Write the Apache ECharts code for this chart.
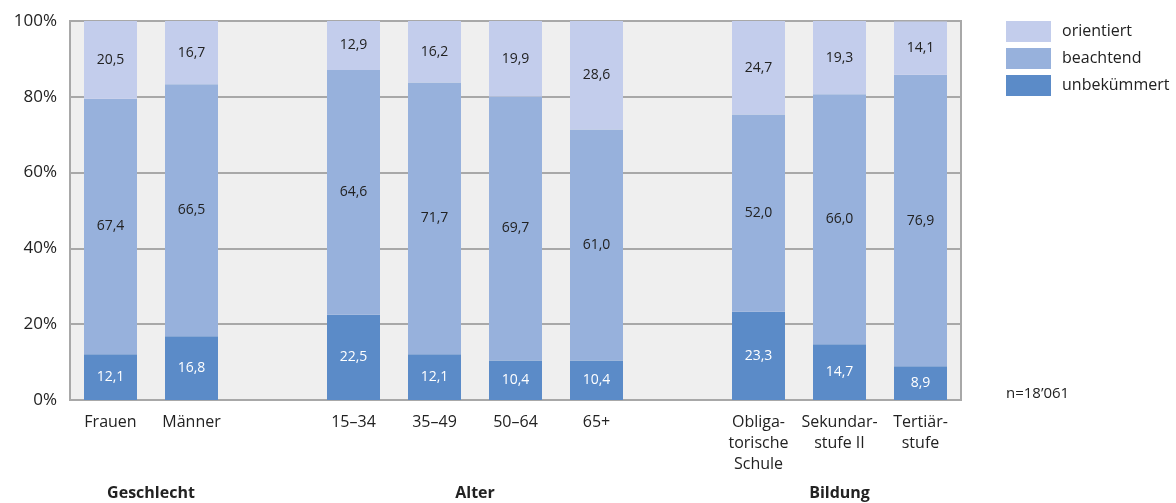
<!DOCTYPE html>
<html><head><meta charset="utf-8">
<script src="https://cdn.jsdelivr.net/npm/echarts@6/dist/echarts.min.js"></script>
<style>html,body{margin:0;padding:0;background:#fff}#c{width:1176px;height:503px}</style>
</head><body><div id="c"></div>
<script>
const categories = ['Frauen','Männer','','15–34','35–49','50–64','65+','','Obliga-\ntorische\nSchule','Sekundar-\nstufe II','Tertiär-\nstufe'];
const unbekuemmert = [12.1,16.8,null,22.5,12.1,10.4,10.4,null,23.3,14.7,8.9];
const beachtend = [67.4,66.5,null,64.6,71.7,69.7,61.0,null,52.0,66.0,76.9];
const orientiert = [20.5,16.7,null,12.9,16.2,19.9,28.6,null,24.7,19.3,14.1];
const groups = [
  {name:'Geschlecht', from:0, to:1},
  {name:'Alter', from:3, to:6},
  {name:'Bildung', from:8, to:10}
];
const note = 'n=18\u2019061';

const FONT = '"Open Sans", sans-serif';
const fmt = v => v == null ? '' : v.toFixed(1).replace('.', ',');
const chart = echarts.init(document.getElementById('c'));
const barBase = {type:'bar', stack:'s', barWidth:53, animation:false};
const lbl = color => ({show:true, position:'inside', formatter:p=>fmt(p.value), color:color, fontSize:14, fontFamily:FONT});
chart.setOption({
  animation:false,
  textStyle:{fontFamily:FONT},
  grid:{left:70, top:21, right:215, bottom:103, show:true, backgroundColor:'#efefef', borderColor:'#a8a8a8', borderWidth:2},
  legend:{
    left:1001, top:16, orient:'vertical', itemWidth:45, itemHeight:21, itemGap:6,
    icon:'rect', selectedMode:false,
    textStyle:{fontFamily:FONT, fontSize:16, color:'#222', padding:[0,0,0,6]},
    data:['orientiert','beachtend','unbekümmert']
  },
  xAxis:{
    type:'category', data:categories,
    axisLine:{lineStyle:{color:'#a8a8a8', width:2}},
    axisTick:{show:false},
    axisLabel:{interval:0, color:'#222', fontSize:16, lineHeight:21, margin:12, fontFamily:FONT, verticalAlign:'top'}
  },
  yAxis:{
    type:'value', min:0, max:100, interval:20,
    axisLine:{show:true, lineStyle:{color:'#a8a8a8', width:2}},
    axisTick:{show:false},
    splitLine:{lineStyle:{color:'#a8a8a8', width:2}},
    axisLabel:{formatter:'{value}%', color:'#222', fontSize:17, margin:13, fontFamily:FONT}
  },
  series:[
    Object.assign({}, barBase, {name:'unbekümmert', data:unbekuemmert, itemStyle:{color:'#5b8bc8'}, label:lbl('#ffffff')}),
    Object.assign({}, barBase, {name:'beachtend', data:beachtend, itemStyle:{color:'#97b1dc'}, label:lbl('#222')}),
    Object.assign({}, barBase, {name:'orientiert', data:orientiert, itemStyle:{color:'#c3cdec'}, label:lbl('#222')})
  ]
});
const y0 = chart.convertToPixel({yAxisIndex:0}, 0);
const gfx = groups.map(g=>{
  const x = (chart.convertToPixel({xAxisIndex:0}, g.from) + chart.convertToPixel({xAxisIndex:0}, g.to))/2;
  return {type:'text', x:x, y:y0+93, style:{text:g.name, fill:'#222', font:'bold 16px '+FONT, textAlign:'center', textVerticalAlign:'middle'}};
});
gfx.push({type:'text', x:1006, y:y0-6, style:{text:note, fill:'#222', font:'15px '+FONT, textAlign:'left', textVerticalAlign:'middle'}});
chart.setOption({graphic:gfx});
</script></body></html>
